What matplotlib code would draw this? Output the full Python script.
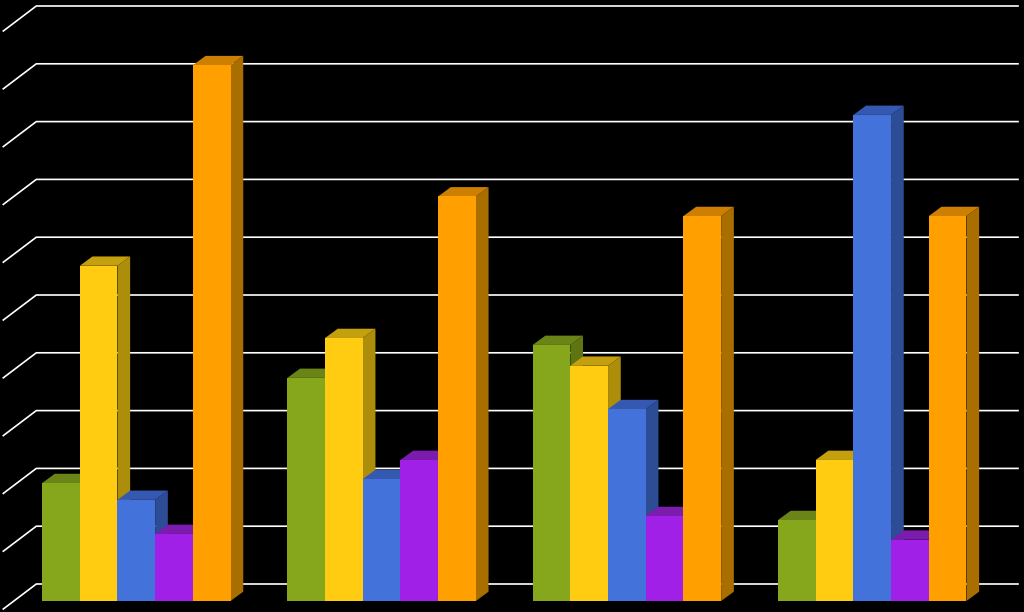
import matplotlib
matplotlib.use('Agg')
import matplotlib.pyplot as plt
from matplotlib.patches import Polygon

# values, one list per colour, four groups
green = [2.04, 3.86, 4.43, 1.40]
yellow = [5.80, 4.55, 4.07, 2.44]
blue = [1.75, 2.11, 3.32, 8.41]
purple = [1.16, 2.44, 1.47, 1.06]
orange = [9.27, 7.00, 6.66, 6.66]
gridlines = list(range(11))

series = [green, yellow, blue, purple, orange]
front = ['#86A61C', '#FFCC12', '#4472DB', '#A020E8', '#FF9F00']
top = ['#6B8417', '#C4A00E', '#3558B0', '#7B1CAF', '#CC7F00']
side = ['#5F7512', '#AD8E0A', '#2C4C96', '#6A1896', '#A86E00']

# scale: one group = 245.3 px, one unit of value = 57.8 px
px_x = 245.3
px_y = 57.8
width = 37.7 / px_x
dx = 12.7 / px_x   # bar depth
dy = 9.3 / px_y
wall_y = 17 / px_y  # back wall floor sits above the bar base
wall_x0 = -100.0 / px_x
wall_x1 = 881.7 / px_x
diag_x = 33 / px_x
diag_y = 25 / px_y

fig = plt.figure(figsize=(10.24, 6.12), dpi=100, facecolor='black')
ax = fig.add_axes([0, 0, 1, 1], facecolor='black')
ax.set_xlim(-136.3 / px_x, (1024 - 136.3) / px_x)
ax.set_ylim(-11 / px_y, 601 / px_y)
ax.axis('off')

# back wall grid with the short diagonal on the left
for g in gridlines:
    y = g + wall_y
    ax.plot([wall_x0 - diag_x, wall_x0, wall_x1], [y - diag_y, y, y],
            color='white', lw=1.2, solid_joinstyle='miter', zorder=1)

z = 2
for group in range(len(green)):
    for i, values in enumerate(series):
        v = values[group]
        x0 = group + (i - 2.5) * width
        x1 = x0 + width
        ax.add_patch(Polygon([(x1, 0), (x1 + dx, dy), (x1 + dx, v + dy), (x1, v)],
                             facecolor=side[i], edgecolor='none', zorder=z))
        ax.add_patch(Polygon([(x0, v), (x0 + dx, v + dy), (x1 + dx, v + dy), (x1, v)],
                             facecolor=top[i], edgecolor='none', zorder=z))
        ax.bar(x0, v, width=width, align='edge', color=front[i], linewidth=0, zorder=z + 0.5)
        z += 1

fig.savefig('out.png', dpi=100, facecolor='black')
